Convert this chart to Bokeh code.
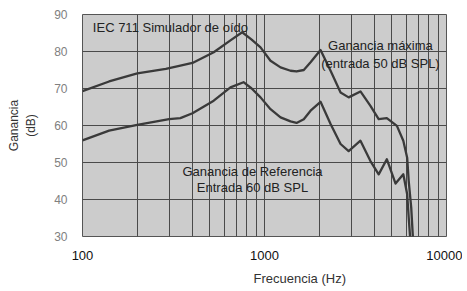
from bokeh.plotting import figure
from bokeh.models import FixedTicker, Label, Title, Range1d
from bokeh.embed import file_html
from bokeh.resources import INLINE

# Ganancia máxima (entrada 50 dB SPL)
freq_max = [100, 140, 200, 287, 345, 402, 526, 650, 754, 850, 951, 1079, 1225, 1390, 1500,
            1644, 1791, 2032, 2307, 2618, 2900, 3367, 3820, 4240, 4700, 5340, 5790, 6080,
            6200, 6400, 6550]
gain_max = [69.3, 71.9, 74.1, 75.3, 76.2, 76.9, 79.8, 83.0, 85.2, 83.2, 81.1, 77.5, 75.7, 74.8, 74.6,
            75.0, 77.1, 80.4, 74.8, 68.9, 67.6, 69.2, 65.3, 61.7, 62.0, 59.9, 55.9, 51.3,
            45.0, 37.8, 29.0]

# Ganancia de Referencia (entrada 60 dB SPL)
freq_ref = [100, 140, 200, 299, 345, 402, 526, 650, 767, 850, 951, 1079, 1225, 1390, 1500,
            1644, 1791, 2032, 2307, 2618, 2900, 3367, 3820, 4240, 4700, 5250, 5790, 6080,
            6200, 6350]
gain_ref = [56.0, 58.6, 60.2, 61.7, 62.0, 63.3, 66.7, 70.3, 71.7, 70.0, 67.6, 64.4, 62.2, 61.1, 60.7,
            61.7, 64.0, 66.4, 60.4, 55.0, 53.1, 55.9, 50.4, 46.8, 50.9, 44.3, 46.8, 41.4,
            35.1, 28.0]

x_major = [100, 1000, 10000]
x_minor = [200, 300, 400, 500, 600, 700, 800, 900,
           2000, 3000, 4000, 5000, 6000, 7000, 8000, 9000]
y_ticks = [30, 40, 50, 60, 70, 80, 90]

FONT = "Liberation Sans"
LINE = "#3a3a3a"
GRID = "#4a4a4a"

p = figure(width=462, height=291, x_axis_type="log",
           x_range=Range1d(100, 10000), y_range=Range1d(30, 90),
           output_backend="svg", toolbar_location=None,
           min_border_left=82, min_border_right=16, min_border_top=14, min_border_bottom=55)

p.background_fill_color = "#cccccc"
p.border_fill_color = "white"
p.outline_line_color = "#555555"
p.outline_line_width = 1

p.xaxis.ticker = FixedTicker(ticks=x_major, minor_ticks=x_minor)
p.yaxis.ticker = FixedTicker(ticks=y_ticks)
p.xaxis.major_label_overrides = {100: "100", 1000: "1000", 10000: "10000"}

p.xgrid.grid_line_color = GRID
p.xgrid.minor_grid_line_color = GRID
p.xgrid.grid_line_width = 1
p.xgrid.minor_grid_line_width = 1
p.ygrid.grid_line_color = GRID
p.ygrid.grid_line_width = 1

for ax in (p.xaxis, p.yaxis):
    ax.axis_line_color = None
    ax.major_tick_line_color = None
    ax.minor_tick_line_color = None
    ax.major_label_text_font = FONT

p.xaxis.major_label_text_font_size = "13px"
p.xaxis.major_label_text_color = "#111111"
p.xaxis.major_label_standoff = 8
p.yaxis.major_label_text_font_size = "12px"
p.yaxis.major_label_text_color = "#808080"
p.yaxis.major_label_standoff = 9

p.yaxis.axis_label = "Ganancia\n(dB)"
p.yaxis.axis_label_text_font = FONT
p.yaxis.axis_label_text_font_size = "12px"
p.yaxis.axis_label_text_font_style = "normal"
p.yaxis.axis_label_text_color = "#333333"
p.yaxis.axis_label_standoff = 13

p.line(freq_max, gain_max, line_color=LINE, line_width=2.3, line_join="round")
p.line(freq_ref, gain_ref, line_color=LINE, line_width=2.3, line_join="round")

def txt(x, y, s, align="left", color="#222222"):
    p.add_layout(Label(x=x, y=y, text=s, text_font=FONT, text_font_size="13px",
                       text_color=color, text_align=align, text_baseline="middle"))

txt(114, 86.4, "IEC 711 Simulador de oído")
txt(4335, 81.6, "Ganancia máxima", "center")
txt(4335, 76.7, "(entrada 50 dB SPL)", "center")
txt(859, 47.5, "Ganancia de Referencia", "center")
txt(859, 43.2, "Entrada 60 dB SPL", "center")

xt = Title(text="Frecuencia (Hz)", align="left", offset=171, standoff=12, text_font=FONT,
           text_font_size="13px", text_font_style="normal", text_color="#333333")
p.add_layout(xt, "below")

open("out.html", "w").write(file_html(p, INLINE))
